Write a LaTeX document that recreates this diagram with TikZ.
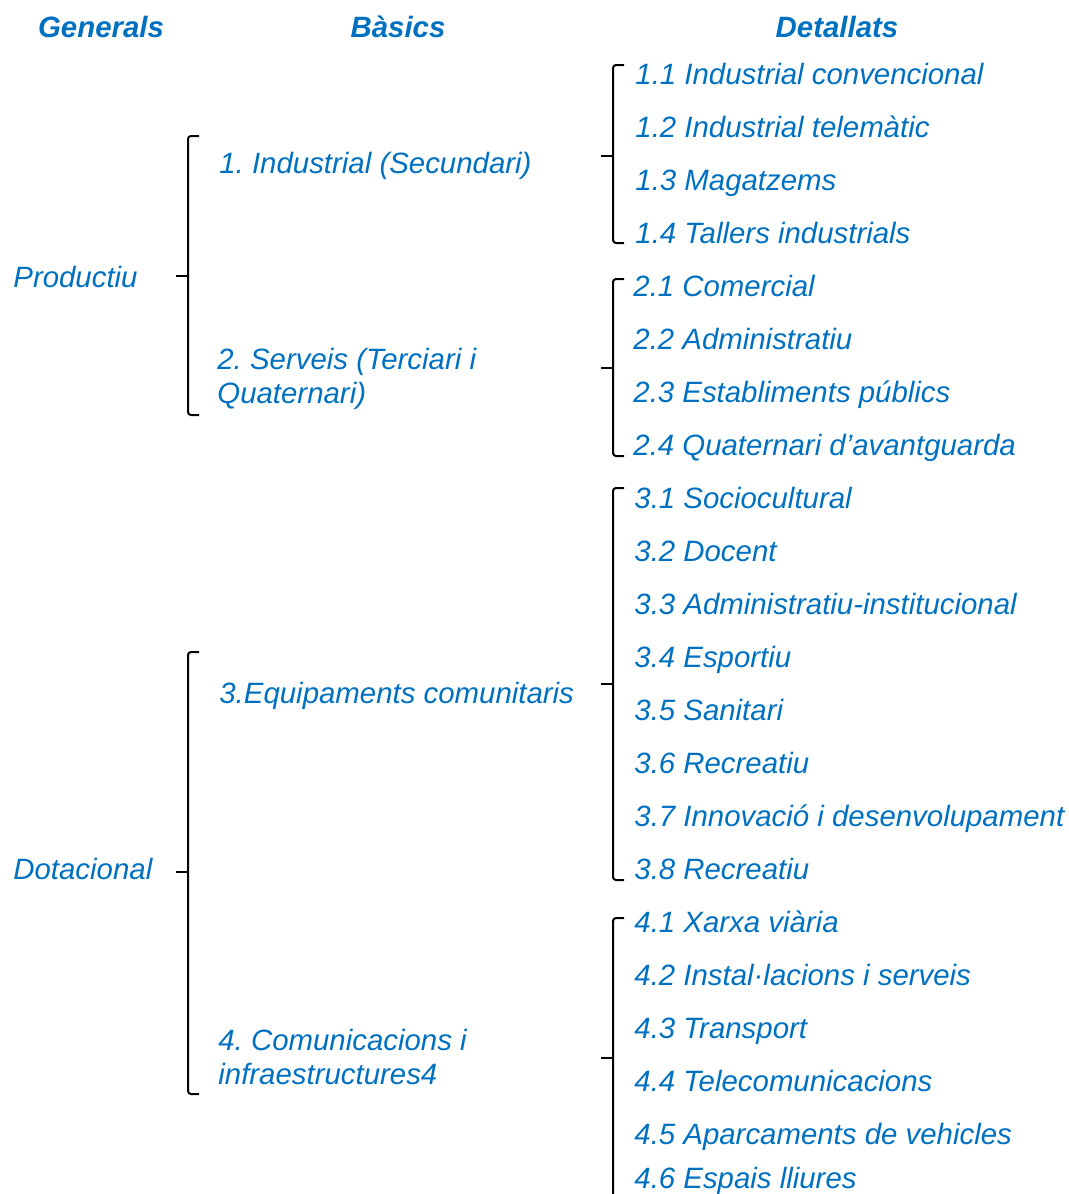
\documentclass[tikz,border=0pt]{standalone}
\usepackage{fontspec}
\setmainfont{Liberation Sans}
\usepackage{tikz}
\usetikzlibrary{positioning,calc}
\usepackage{xcolor}
\definecolor{useblue}{HTML}{0070C0}
\frenchspacing

% bracket: x, top, tip, bottom
\newcommand{\groupbrace}[4]{%
  \draw[brk] (#1+11,#2) -- (#1,#2) -- (#1,#4) -- (#1+11,#4);
  \draw[brk] (#1,#3) -- (#1-12,#3);}

\begin{document}
\begin{tikzpicture}[
    x=0.5pt,y=-0.5pt,
    head/.style={font=\bfseries\itshape\fontsize{14.7}{17}\selectfont,color=useblue,anchor=base,inner sep=0pt},
    item/.style={font=\itshape\fontsize{14.7}{17}\selectfont,color=useblue,anchor=base west,inner sep=0pt,align=left},
    brk/.style={draw=black,line width=1pt,rounded corners=1.5pt}
]
\useasboundingbox (0,0) rectangle (1069,1194);

% headings
\node[head] (hgen) at (101,37) {Generals};
\node[head] (hbas) at (398,37) {Bàsics};
\node[head] (hdet) at (837,37) {Detallats};

% generals
\node[item] (prod) at (13,287) {Productiu};
\node[item] (dot) at (13,879) {Dotacional};

% basics (two-line nodes sit on their last line)
\node[item] (ind) at (219,173) {1. Industrial (Secundari)};
\node[item] (serv) at (217,403) {2. Serveis (Terciari i\\Quaternari)};
\node[item] (equip) at (219,703) {3.Equipaments comunitaris};
\node[item] (comm) at (218,1084) {4. Comunicacions i\\infraestructures4};

% detallats
\node[item] (d11) at (635,84) {1.1 Industrial convencional};
\node[item] (d12) at (635,137) {1.2 Industrial telemàtic};
\node[item] (d13) at (635,190) {1.3 Magatzems};
\node[item] (d14) at (635,243) {1.4 Tallers industrials};
\node[item] (d21) at (633,296) {2.1 Comercial};
\node[item] (d22) at (633,349) {2.2 Administratiu};
\node[item] (d23) at (633,402) {2.3 Establiments públics};
\node[item] (d24) at (633,455) {2.4 Quaternari d’avantguarda};
\node[item] (d31) at (634,508) {3.1 Sociocultural};
\node[item] (d32) at (634,561) {3.2 Docent};
\node[item] (d33) at (634,614) {3.3 Administratiu-institucional};
\node[item] (d34) at (634,667) {3.4 Esportiu};
\node[item] (d35) at (634,720) {3.5 Sanitari};
\node[item] (d36) at (634,773) {3.6 Recreatiu};
\node[item] (d37) at (634,826) {3.7 Innovació i desenvolupament};
\node[item] (d38) at (634,879) {3.8 Recreatiu};
\node[item] (d41) at (634,932) {4.1 Xarxa viària};
\node[item] (d42) at (634,985) {4.2 Instal·lacions i serveis};
\node[item] (d43) at (634,1038) {4.3 Transport};
\node[item] (d44) at (634,1091) {4.4 Telecomunicacions};
\node[item] (d45) at (634,1144) {4.5 Aparcaments de vehicles};
\node[item] (d46) at (634,1188) {4.6 Espais lliures};

% brackets
\groupbrace{188}{136}{276}{415}
\groupbrace{188}{652}{872}{1094}
\groupbrace{613}{65}{156}{243}
\groupbrace{613}{279}{368}{456}
\groupbrace{613}{488}{684}{880}
\draw[brk] (613+11,918) -- (613,918) -- (613,1200);
\draw[brk] (613,1058) -- (613-12,1058);
\end{tikzpicture}
\end{document}
